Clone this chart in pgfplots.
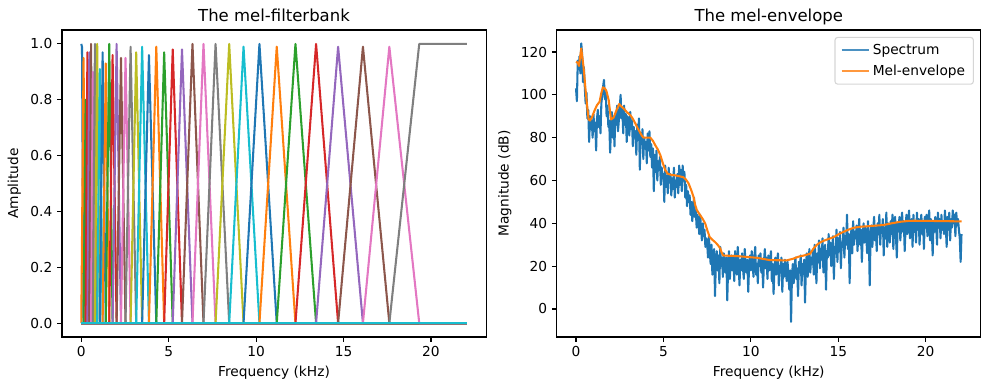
\documentclass[border=0pt]{standalone}
\usepackage{fontspec}
\setmainfont{DejaVu Sans}
\usepackage{pgfplots}
\usepackage{pgfplotstable}
\pgfplotsset{compat=1.18}
\definecolor{c0}{HTML}{1F77B4}
\definecolor{c1}{HTML}{FF7F0E}
\definecolor{c2}{HTML}{2CA02C}
\definecolor{c3}{HTML}{D62728}
\definecolor{c4}{HTML}{9467BD}
\definecolor{c5}{HTML}{8C564B}
\definecolor{c6}{HTML}{E377C2}
\definecolor{c7}{HTML}{7F7F7F}
\definecolor{c8}{HTML}{BCBD22}
\definecolor{c9}{HTML}{17BECF}
\definecolor{legedge}{HTML}{CCCCCC}
\newcommand{\tri}[5]{\addplot[#1] coordinates {(0,0)(#2,0)(#3,#4)(#5,0)(22.05,0)};}
\pgfplotstableread[row sep=\\]{y\\
103\\97\\116\\112\\118\\110\\124\\119\\106\\113\\
104\\96\\101\\89\\93\\78\\90\\84\\88\\80\\
91\\83\\87\\74\\89\\93\\85\\90\\82\\96\\
100\\104\\107\\98\\101\\90\\95\\85\\88\\73\\
84\\92\\80\\89\\76\\91\\86\\95\\83\\88\\
94\\100\\89\\93\\82\\95\\86\\91\\78\\90\\
87\\81\\92\\84\\88\\76\\85\\80\\83\\72\\
86\\79\\89\\65\\82\\77\\84\\70\\80\\75\\
78\\68\\82\\74\\83\\71\\77\\66\\75\\55\\
72\\64\\74\\60\\69\\65\\71\\58\\66\\61\\
63\\50\\67\\57\\62\\54\\66\\59\\63\\53\\
61\\56\\66\\52\\60\\57\\63\\54\\67\\58\\
65\\55\\67\\60\\64\\52\\58\\48\\55\\50\\
53\\44\\50\\41\\47\\52\\43\\46\\38\\44\\
41\\35\\44\\38\\32\\40\\34\\37\\29\\33\\
31\\24\\34\\27\\21\\30\\16\\25\\28\\6\\
22\\27\\18\\25\\12\\29\\20\\24\\15\\26\\
21\\17\\24\\4\\19\\27\\14\\22\\25\\18\\
24\\13\\27\\20\\16\\29\\22\\11\\23\\18\\
26\\19\\14\\28\\21\\17\\23\\8\\20\\25\\
18\\27\\22\\15\\24\\29\\16\\21\\12\\25\\
20\\26\\17\\23\\10\\22\\28\\19\\24\\14\\
25\\18\\23\\27\\13\\21\\7\\19\\24\\16\\
22\\26\\11\\20\\17\\24\\8\\21\\15\\23\\
19\\13\\22\\16\\9\\18\\-6\\15\\21\\12\\
20\\24\\14\\19\\6\\22\\17\\25\\11\\21\\
18\\23\\3\\20\\26\\15\\22\\28\\17\\24\\
21\\27\\16\\30\\24\\12\\26\\22\\32\\19\\
28\\23\\33\\17\\26\\30\\9\\27\\24\\35\\
25\\31\\20\\28\\34\\14\\29\\26\\37\\22\\
33\\27\\36\\19\\31\\29\\38\\24\\34\\30\\
44\\28\\35\\12\\32\\37\\26\\41\\30\\36\\
33\\39\\27\\35\\42\\30\\37\\22\\34\\40\\
31\\38\\35\\26\\41\\33\\11\\36\\39\\29\\
37\\43\\32\\38\\27\\40\\35\\44\\30\\39\\
36\\42\\25\\38\\33\\45\\29\\40\\37\\31\\
41\\35\\44\\28\\39\\43\\34\\24\\40\\37\\
43\\32\\39\\45\\36\\41\\27\\38\\44\\35\\
40\\46\\33\\38\\42\\29\\44\\36\\41\\31\\
45\\37\\42\\30\\39\\44\\35\\41\\28\\43\\
38\\44\\34\\40\\46\\32\\42\\37\\25\\41\\
36\\43\\39\\30\\45\\38\\42\\33\\44\\37\\
41\\35\\46\\39\\29\\43\\37\\45\\32\\42\\
38\\46\\40\\44\\34\\45\\39\\42\\37\\33\\
22\\35\\
}\spec
\pgfplotsset{mpl/.style={
  scale only axis, width=308.4pt, height=223.3pt, anchor=south west,
  xmin=-1.1025, xmax=23.1525, xtick={0,5,10,15,20},
  tick align=outside, xtick pos=left, ytick pos=left,
  major tick length=3.5pt,
  every tick/.style={black, line width=0.8pt},
  axis line style={line width=0.8pt},
  tick label style={font=\fontsize{10}{12}\selectfont},
  label style={font=\fontsize{10}{12}\selectfont},
  every axis title/.style={at={(0.5,1)}, anchor=base, yshift=6pt, inner sep=0pt, font=\fontsize{12}{14.4}\selectfont},
  /pgf/number format/assume math mode=true,
  xlabel={Frequency (kHz)},
  every axis plot/.append style={line width=1.5pt, line join=round, mark=none},
}}
\begin{document}
\begin{tikzpicture}[x=1pt,y=1pt]
\path[use as bounding box] (0,0) rectangle (720,283.6);
\begin{axis}[mpl, at={(45.1pt,38.5pt)},
  ymin=-0.05, ymax=1.05, ytick={0,0.2,0.4,0.6,0.8,1.0},
  yticklabel style={/pgf/number format/fixed, /pgf/number format/fixed zerofill, /pgf/number format/precision=1},
  ylabel={Amplitude}, title={The mel-filterbank}]
\addplot[c0] coordinates {(0,1)(0.04,0.99)(0.13,0)(22.05,0)};
\tri{c1}{0}{0.13}{0.95}{0.25}
\tri{c2}{0.13}{0.25}{0.80}{0.35}
\tri{c3}{0.25}{0.35}{0.97}{0.46}
\tri{c4}{0.35}{0.46}{0.97}{0.56}
\tri{c5}{0.46}{0.56}{1.0}{0.66}
\tri{c6}{0.56}{0.66}{0.90}{0.78}
\tri{c7}{0.66}{0.78}{1.0}{0.91}
\tri{c8}{0.78}{0.91}{1.0}{1.06}
\tri{c9}{0.91}{1.06}{0.91}{1.22}
\tri{c0}{1.06}{1.22}{0.97}{1.40}
\tri{c1}{1.22}{1.40}{0.93}{1.60}
\tri{c2}{1.40}{1.60}{1.0}{1.79}
\tri{c3}{1.60}{1.79}{0.96}{2.02}
\tri{c4}{1.79}{2.02}{1.0}{2.27}
\tri{c5}{2.02}{2.27}{0.95}{2.53}
\tri{c6}{2.27}{2.53}{0.95}{2.82}
\tri{c7}{2.53}{2.82}{0.99}{3.14}
\tri{c8}{2.82}{3.14}{0.97}{3.48}
\tri{c9}{3.14}{3.48}{0.99}{3.87}
\tri{c0}{3.48}{3.87}{0.96}{4.29}
\tri{c1}{3.87}{4.29}{0.99}{4.74}
\tri{c2}{4.29}{4.74}{0.97}{5.23}
\tri{c3}{4.74}{5.23}{0.98}{5.76}
\tri{c4}{5.23}{5.76}{0.98}{6.36}
\tri{c5}{5.76}{6.36}{1.0}{6.99}
\tri{c6}{6.36}{6.99}{1.0}{7.68}
\tri{c7}{6.99}{7.68}{1.0}{8.46}
\tri{c8}{7.68}{8.46}{1.0}{9.28}
\tri{c9}{8.46}{9.28}{0.99}{10.19}
\tri{c0}{9.28}{10.19}{1.0}{11.18}
\tri{c1}{10.19}{11.18}{0.99}{12.25}
\tri{c2}{11.18}{12.25}{1.0}{13.43}
\tri{c3}{12.25}{13.43}{1.0}{14.69}
\tri{c4}{13.43}{14.69}{0.99}{16.11}
\tri{c5}{14.69}{16.11}{0.99}{17.62}
\tri{c6}{16.11}{17.62}{0.99}{19.33}
\addplot[c7] coordinates {(0,0)(17.62,0)(19.33,1)(22.05,1)};
\addplot[c8] coordinates {(0,0)(22.05,0)};
\addplot[c9] coordinates {(0,0)(22.05,0)};
\end{axis}
\begin{axis}[mpl, at={(404.9pt,38.5pt)},
  ymin=-13.1, ymax=130.3, ytick={0,20,40,60,80,100,120},
  ylabel={Magnitude (dB)}, title={The mel-envelope},
  legend style={at={(1,1)}, anchor=north east, xshift=-5pt, yshift=-5pt,
    draw=legedge, rounded corners=2pt, fill=white, fill opacity=0.8, draw opacity=0.8, text opacity=1,
    font=\fontsize{10}{12}\selectfont, inner xsep=4pt, inner ysep=3pt, row sep=2pt, line width=0.8pt},
  legend cell align=left,
  legend image code/.code={\draw[#1, line width=1.5pt] (0pt,0pt) -- (20pt,0pt);}]
\addplot[c0] table[x expr=\coordindex*0.05, y=y] {\spec};
\addlegendentry{Spectrum}
\addplot[c1] coordinates {(0.0,115.5)(0.1,115)(0.17,113.5)(0.3,121.7)(0.43,113)(0.55,102)(0.62,96)(0.72,88.5)(0.8,88)(0.91,89.5)(1.05,92.5)(1.2,95.2)(1.35,96.8)(1.45,101)(1.54,103.5)(1.65,103)(1.73,102)(1.87,97.5)(2.0,88.5)(2.15,89.4)(2.3,92.5)(2.47,95.7)(2.6,94.5)(2.72,93.7)(2.9,92)(3.1,90.6)(3.25,88.8)(3.39,86.7)(3.52,84.5)(3.64,82.8)(3.76,81)(3.86,80)(4.25,80)(4.4,78.5)(4.53,76.5)(4.68,74.5)(4.82,71.9)(4.95,68.5)(5.1,64.9)(5.24,63.2)(5.45,62.6)(5.67,62.4)(5.9,62)(6.15,61.5)(6.3,60.3)(6.44,58.6)(6.58,55.7)(6.72,52.4)(6.82,48.5)(6.91,46.2)(7.1,43.8)(7.25,42)(7.39,39.9)(7.52,36.5)(7.64,33.7)(7.8,32.3)(7.96,31.2)(8.1,30)(8.25,28.3)(8.33,26.3)(8.42,25)(8.6,24.9)(9.2,24.7)(10.34,23.9)(11.1,22.8)(12.05,22.7)(12.4,23.4)(12.72,24.4)(13.05,25)(13.39,25.8)(13.58,28.2)(13.77,29.9)(13.95,31)(14.15,31.8)(14.45,32.7)(14.72,33.5)(15.0,34.8)(15.29,36)(15.6,37.1)(15.87,37.9)(16.25,38.4)(16.63,38.6)(17.1,38.9)(17.58,39.2)(18.05,40)(18.53,40.7)(19.0,41.1)(19.3,41.2)(20.44,41.1)(21.2,41)(22.05,40.9)};
\addlegendentry{Mel-envelope}
\end{axis}
\end{tikzpicture}
\end{document}
